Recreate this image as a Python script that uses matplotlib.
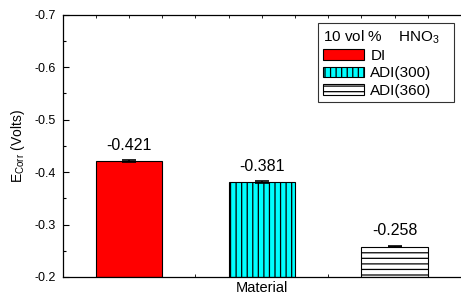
import matplotlib
matplotlib.use("Agg")
import matplotlib.pyplot as plt
from matplotlib.ticker import MultipleLocator

plt.rcParams["font.family"] = ["Liberation Sans", "DejaVu Sans"]
plt.rcParams["hatch.linewidth"] = 0.9

materials = ["DI", "ADI(300)", "ADI(360)"]
e_corr = [-0.421, -0.381, -0.258]
e_err = [0.0015, 0.0015, 0.0015]
labels = ["-0.421", "-0.381", "-0.258"]

colors = ["#ff0000", "#00ffff", "#ffffff"]
hatches = ["", "|||", "---"]
xpos = [1, 2, 3]

fig = plt.figure(figsize=(4.61, 2.96), dpi=100)
ax = fig.add_axes([0.1356, 0.0642, 0.8644, 0.886])

for x, v, e, c, h, name in zip(xpos, e_corr, e_err, colors, hatches, materials):
    ax.bar(x, v - (-0.2), bottom=-0.2, width=0.5, color=c, edgecolor="black",
           linewidth=0.8, hatch=h, label=name, zorder=2)
    ax.errorbar(x, v, yerr=e, fmt="none", ecolor="black", elinewidth=1.2,
                capsize=5, capthick=1.2, zorder=3)

for x, v, t in zip(xpos, e_corr, labels):
    ax.text(x, v - 0.016, t, ha="center", va="bottom", fontsize=11.5)

ax.set_xlim(0.5, 3.5)
ax.set_ylim(-0.2, -0.7)
ax.yaxis.set_minor_locator(MultipleLocator(0.05))
ax.set_yticks([-0.7, -0.6, -0.5, -0.4, -0.3, -0.2])
ax.set_yticklabels(["-0.7", "-0.6", "-0.5", "-0.4", "-0.3", "-0.2"])
ax.xaxis.set_major_locator(MultipleLocator(0.5))
ax.xaxis.set_minor_locator(MultipleLocator(0.25))
ax.set_xticklabels([])
ax.tick_params(axis="y", which="major", direction="in", length=4, width=0.8,
               labelsize=9, pad=5)
ax.tick_params(axis="y", which="minor", direction="in", length=2, width=0.8)
ax.tick_params(axis="x", which="both", direction="in", length=2, width=0.6,
               top=True, labelbottom=False)
for s in ["left", "bottom", "top"]:
    ax.spines[s].set_linewidth(0.9)
ax.spines["right"].set_visible(False)

ax.set_ylabel(r"E$_{\mathregular{Corr}}$ (Volts)", fontsize=10, labelpad=5)
ax.set_xlabel("Material", fontsize=10.5, labelpad=3)

leg = ax.legend(loc="upper right", bbox_to_anchor=(0.9824, 0.967),
                title=r"10 vol %    HNO$_{\mathregular{3}}$   ",
                fontsize=11, title_fontsize=11, frameon=True, fancybox=False,
                edgecolor="black", handlelength=2.7, handleheight=0.7,
                handletextpad=0.4, labelspacing=0.22, borderpad=0.3,
                borderaxespad=0)
leg._legend_box.align = "left"
leg.get_frame().set_linewidth(0.8)

fig.savefig("out.png", dpi=100)
